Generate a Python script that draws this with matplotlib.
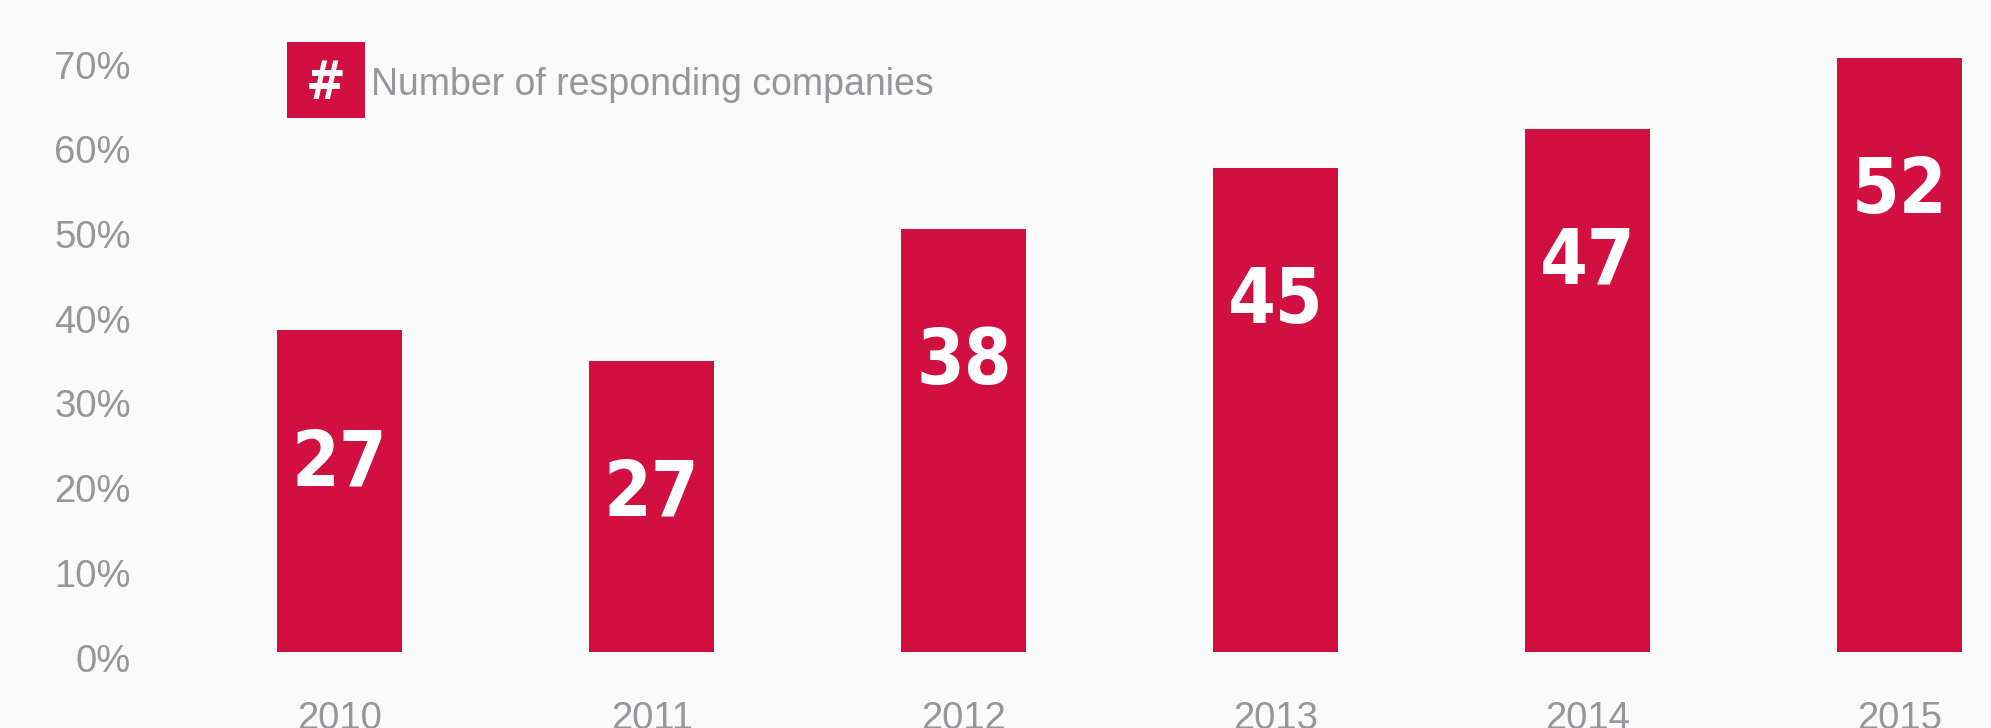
import matplotlib
matplotlib.use("Agg")
import matplotlib.pyplot as plt
from matplotlib.patches import Rectangle
from matplotlib.transforms import ScaledTranslation

# Data
years = ["2010", "2011", "2012", "2013", "2014", "2015"]
share_pct = [38.0, 34.4, 49.9, 57.2, 61.8, 70.1]
companies = [27, 27, 38, 45, 47, 52]
y_ticks = [0, 10, 20, 30, 40, 50, 60, 70]
y_tick_labels = ["0%", "10%", "20%", "30%", "40%", "50%", "60%", "70%"]
legend_label = "Number of responding companies"

BAR = "#D10F40"
GREY = "#96969B"
BG = "#FAFAFA"
W, H, DPI = 1991, 728, 100

fig = plt.figure(figsize=(W / DPI, H / DPI), dpi=DPI, facecolor=BG)
ax = fig.add_axes([140 / W, (H - 652) / H, 1 - 140 / W, (652 - 42.2) / H])
ax.set_facecolor(BG)

x = list(range(len(years)))
ax.bar(x, share_pct, width=0.4, color=BAR, linewidth=0)
ax.set_xlim(-0.64, 5.292)
ax.set_ylim(0, 72)

for s in ax.spines.values():
    s.set_visible(False)

regular = ["Liberation Sans", "DejaVu Sans"]
narrow = ["DejaVu Sans"]

ax.set_yticks(y_ticks)
ax.set_yticklabels(y_tick_labels, family=regular, fontsize=27.5, color=GREY)
ax.set_xticks(x)
ax.set_xticklabels(years, family=regular, fontsize=27.5, color=GREY)
ax.tick_params(axis="y", length=0, pad=6.5)
ax.tick_params(axis="x", length=0, pad=55.2)

shift_down = ScaledTranslation(0, -19.5 / DPI, fig.dpi_scale_trans)
for lab in ax.get_yticklabels():
    lab.set_va("baseline")
    lab.set_transform(lab.get_transform() + shift_down)
for lab in ax.get_xticklabels():
    lab.set_va("baseline")

# Company counts inside the bars, a fixed distance below each bar top
for xi, v, n in zip(x, share_pct, companies):
    ax.annotate(str(n), xy=(xi, v), xytext=(0, -155 * 72 / DPI),
                textcoords="offset points", ha="center", va="baseline",
                family=narrow, fontstretch="condensed", fontweight="bold",
                fontsize=55, color="white")

# Legend: red square with '#', followed by the label
fig.patches.append(Rectangle((286.7 / W, (H - 117.7) / H), 78.3 / W, 75.7 / H,
                             transform=fig.transFigure, facecolor=BAR,
                             edgecolor="none"))
fig.text(325.8 / W, (H - 98.7) / H, "#", ha="center", va="baseline",
         family=narrow, fontstretch="condensed", fontweight="bold",
         fontsize=38, color="white")
fig.text(371 / W, (H - 95) / H, legend_label, ha="left", va="baseline",
         family=regular, fontsize=27, color=GREY)

fig.savefig("out.png", dpi=DPI, facecolor=BG)
